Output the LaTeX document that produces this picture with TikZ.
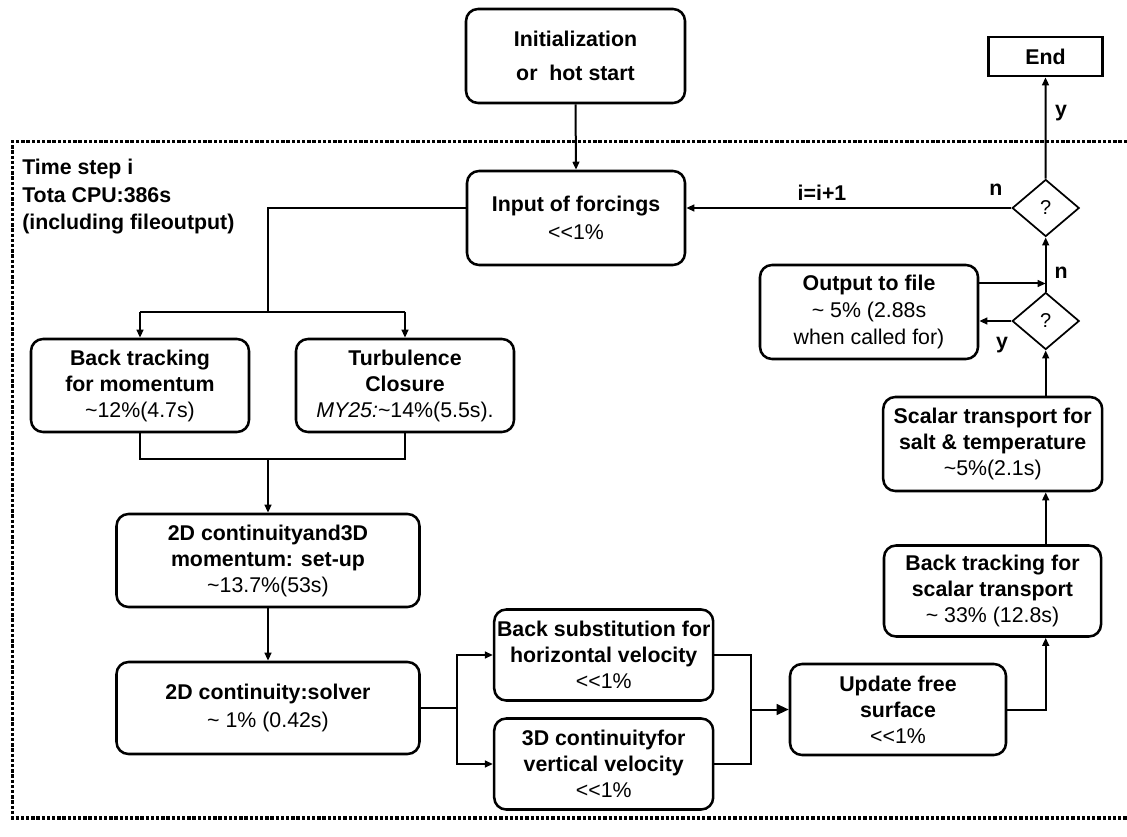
\documentclass[tikz,border=0pt]{standalone}
\usepackage{fontspec}
\setmainfont{Liberation Sans}
\usetikzlibrary{shapes.geometric,arrows.meta,calc}
\begin{document}
\begin{tikzpicture}[x=0.75pt,y=-0.75pt,
  txt/.style={font=\fontsize{16}{19.5}\selectfont},
  box/.style={draw,line width=1.9pt,rounded corners=9pt,align=center,inner sep=0pt,txt},
  bsize/.style 2 args={minimum width=#1*0.75pt,minimum height=#2*0.75pt},
  endbox/.style={draw,line width=1.9pt,inner sep=0pt,txt,font=\fontsize{16}{19}\selectfont\bfseries},
  dia/.style={draw,diamond,line width=1.3pt,inner sep=0pt,minimum width=67*0.75pt,minimum height=57*0.75pt,font=\fontsize{15}{18}\selectfont},
  lbl/.style={inner sep=0pt,font=\fontsize{16}{19}\selectfont\bfseries},
  conn/.style={line width=1.5pt},
  arr/.style={line width=1.5pt,-{Triangle[length=6pt,width=5pt]}},
  bigarr/.style={line width=1.5pt,-{Triangle[length=9pt,width=8pt]}},
  frame/.style={line width=2.5pt,dash pattern=on 2.5pt off 1.4pt}
]
\useasboundingbox (0,0) rectangle (1127,837);

% dotted time-step frame
\draw[frame] (1127,141.7) -- (12.5,141.7) -- (12.5,818) -- (1127,818);

\node[lbl,align=left,anchor=north west,font=\fontsize{16}{20.5}\selectfont\bfseries] (tlab) at (22,159)
  {Time step i\\Tota CPU:386s\\(including fileoutput)};

% boxes
\node[box,bsize={219}{94},font=\fontsize{16}{25.5}\selectfont] (init) at (575.5,56)
  {\textbf{Initialization}\\\textbf{or~~hot start}};
\node[box,bsize={218}{94},font=\fontsize{16}{21}\selectfont] (inp) at (576,218)
  {\textbf{Input of forcings}\\<{}<1\%};
\node[endbox,minimum width=114*0.75pt,minimum height=39*0.75pt] (end) at (1045.5,56.5) {End};
\node[dia] (d1) at (1045.7,208) {?};
\node[dia] (d2) at (1045.7,321) {?};
\node[box,bsize={218}{94},font=\fontsize{16}{20}\selectfont] (out) at (869,312)
  {\textbf{Output to file}\\\textasciitilde{} 5\% (2.88s\\when called for)};
\node[box,bsize={219}{94}] (sc) at (992.7,444)
  {\textbf{Scalar transport for}\\\textbf{salt \& temperature}\\\textasciitilde5\%(2.1s)};
\node[box,bsize={217}{91}] (bts) at (992.5,591)
  {\textbf{Back tracking for}\\\textbf{scalar transport}\\\textasciitilde{} 33\% (12.8s)};
\node[box,bsize={216}{91}] (upd) at (898,709.5)
  {\textbf{Update free}\\\textbf{surface}\\<{}<1\%};
\node[box,bsize={219}{91}] (bsub) at (603.7,655)
  {\textbf{Back substitution for}\\\textbf{horizontal velocity}\\<{}<1\%};
\node[box,bsize={219}{91}] (c3d) at (603.7,764)
  {\textbf{3D continuityfor}\\\textbf{vertical velocity}\\<{}<1\%};
\node[box,bsize={303}{92},font=\fontsize{16}{21}\selectfont] (solv) at (268,708)
  {\textbf{2D continuity:solver}\\\textasciitilde{} 1\% (0.42s)};
\node[box,bsize={303}{93}] (c2d) at (268,560.5)
  {\textbf{2D continuityand3D}\\\textbf{momentum: set-up}\\\textasciitilde13.7\%(53s)};
\node[box,bsize={218}{93}] (btm) at (140,385.5)
  {\textbf{Back tracking}\\\textbf{for momentum}\\\textasciitilde12\%(4.7s)};
\node[box,bsize={218}{93}] (turb) at (405,385.5)
  {\textbf{Turbulence}\\\textbf{Closure}\\\textit{MY25:}\textasciitilde14\%(5.5s).};

% junction coordinates
\coordinate (j1) at (268,311.7);
\coordinate (j2) at (268,459.3);
\coordinate (j3) at (457,708);
\coordinate (j4) at (751,709.5);
\coordinate (t1) at (1045.7,283.5);

% connectors
\draw[arr] (init.south) -- (inp.north);
\draw[conn] (inp.west |- d1.west) -| (j1);
\draw[conn] (btm.north |- j1) -- (turb.north |- j1);
\draw[arr] (btm.north |- j1) -- (btm.north);
\draw[arr] (turb.north |- j1) -- (turb.north);
\draw[conn] (btm.south) -- (btm.south |- j2) -- (turb.south |- j2) -- (turb.south);
\draw[arr] (j2) -- (c2d.north);
\draw[arr] (c2d.south) -- (solv.north);
\draw[conn] (solv.east) -- (j3);
\draw[arr] (j3) |- (bsub.west);
\draw[arr] (j3) |- (c3d.west);
\draw[conn] (bsub.east) -| (j4);
\draw[conn] (c3d.east) -| (j4);
\draw[bigarr] (j4) -- (upd.west);
\draw[arr] (upd.east) -| (bts.south -| d2.south);
\draw[arr] (bts.north -| d2.south) -- (sc.south -| d2.south);
\draw[arr] (sc.north -| d2.south) -- (d2.south);
\draw[arr] (d2.west) -- (d2.west -| out.east);
\draw[arr] (out.east |- t1) -- (t1);
\draw[arr] (d2.north) -- (d1.south);
\draw[arr] (d1.north) -- (end.south);
\draw[arr] (d1.west) -- (d1.west -| inp.east);

% labels
\node[lbl] (ln1) at (996,190) {n};
\node[lbl] (lii) at (822,193) {i=i+1};
\node[lbl] (ly1) at (1061,113) {y};
\node[lbl] (ln2) at (1061,273) {n};
\node[lbl] (ly2) at (1002,345) {y};
\end{tikzpicture}
\end{document}
